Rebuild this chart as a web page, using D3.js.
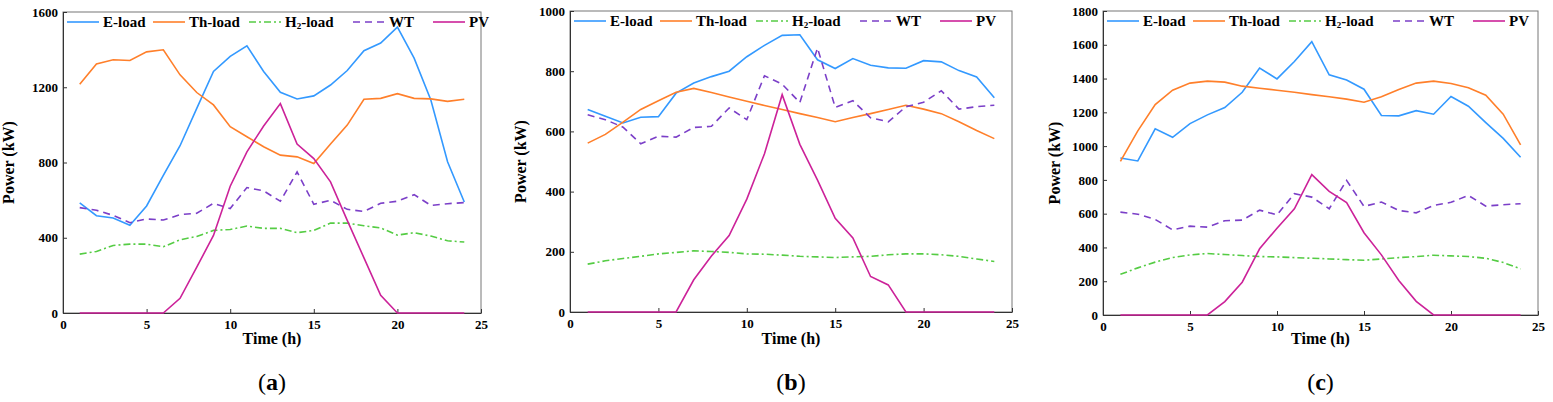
<!DOCTYPE html>
<html><head><meta charset="utf-8">
<script src="https://cdn.jsdelivr.net/npm/d3@7"></script>
<style>body{margin:0;background:#fff}svg text{font-family:'Liberation Serif','Times New Roman',serif !important;font-weight:bold}</style>
</head><body><svg id="c" width="1553" height="402"></svg>
<script>
const hours = d3.range(1, 25);
const series = ['E-load','Th-load','H2-load','WT','PV'];
const colors = ['#3399ff','#ff7f2a','#55cc44','#7b3fc8','#cc2299'];
const dashes = [null,null,'7,3,2,3','7,5',null];

// panel (a)
const aE = [585,517,505,466,569,732,889,1088,1284,1364,1420,1284,1173,1138,1154,1212,1289,1394,1435,1520,1355,1132,804,590];
const aTh = [1216,1324,1346,1342,1388,1399,1266,1172,1106,990,937,884,839,830,795,898,999,1136,1141,1166,1141,1138,1125,1136];
const aH2 = [313,327,359,366,366,352,389,407,439,444,462,450,450,427,439,478,478,464,452,414,427,409,384,377];
const aWT = [560,546,519,480,500,494,523,530,583,555,667,649,594,750,578,599,551,540,583,594,629,572,581,587];
const aPV = [0,0,0,0,0,0,78,244,412,674,857,994,1113,898,821,697,492,293,94,0,0,0,0,0];
// panel (b)
const bE = [673,650,628,647,649,727,761,782,800,848,886,919,921,838,809,842,820,811,810,835,831,802,781,712];
const bTh = [561,590,631,673,702,730,743,729,714,700,686,673,659,646,632,646,659,673,687,674,659,632,603,576];
const bH2 = [159,170,178,185,193,198,203,201,198,193,192,189,185,183,181,183,185,190,193,193,190,185,176,168];
const bWT = [655,639,614,559,584,581,613,617,678,639,785,757,696,877,680,702,645,632,682,697,735,674,682,687];
const bPV = [0,0,0,0,0,0,107,186,254,375,526,722,557,438,311,246,118,90,0,0,0,0,0,0];
// panel (c)
const cE = [930,912,1102,1052,1133,1185,1228,1319,1462,1398,1501,1618,1422,1391,1337,1181,1179,1210,1189,1294,1236,1139,1046,934];
const cTh = [910,1090,1246,1331,1373,1385,1379,1355,1343,1331,1319,1305,1292,1278,1260,1292,1335,1373,1385,1371,1345,1301,1189,1007];
const cH2 = [241,279,313,340,356,364,358,352,346,344,340,336,332,328,324,332,340,346,354,350,346,336,311,273];
const cWT = [609,597,566,504,526,520,558,562,621,593,718,698,629,797,643,669,619,605,649,667,708,645,653,659];
const cPV = [0,0,0,0,0,0,79,194,392,514,629,831,732,665,487,356,204,81,0,0,0,0,0,0];

const panels = [
  {label:'a', data:[aE,aTh,aH2,aWT,aPV], ymax:1600, yticks:[0,400,800,1200,1600], x0:63, x1:481, y0:12, y1:313, titleX:14},
  {label:'b', data:[bE,bTh,bH2,bWT,bPV], ymax:1000, yticks:[0,200,400,600,800,1000], x0:570, x1:1012, y0:11, y1:312, titleX:526},
  {label:'c', data:[cE,cTh,cH2,cWT,cPV], ymax:1800, yticks:d3.range(0,1801,200), x0:1103, x1:1538, y0:11, y1:315, titleX:1060}
];
const legOff = [4,90,186,290,370];

const svg = d3.select('#c');
panels.forEach(p=>{
  const x = d3.scaleLinear().domain([0,25]).range([p.x0,p.x1]);
  const y = d3.scaleLinear().domain([0,p.ymax]).range([p.y1,p.y0]);
  const g = svg.append('g');
  g.append('rect').attr('x',p.x0).attr('y',p.y0).attr('width',p.x1-p.x0).attr('height',p.y1-p.y0)
    .attr('fill','none').attr('stroke','#777').attr('stroke-width',1);
  const xa = g.append('g').attr('transform',`translate(0,${p.y1})`)
    .call(d3.axisBottom(x).tickValues([0,5,10,15,20,25]).tickFormat(d3.format('d')).tickSizeInner(-4).tickSizeOuter(0).tickPadding(7));
  const ya = g.append('g').attr('transform',`translate(${p.x0},0)`)
    .call(d3.axisLeft(y).tickValues(p.yticks).tickFormat(d3.format('d')).tickSizeInner(-4).tickSizeOuter(0).tickPadding(5));
  [xa,ya].forEach(a=>{
    a.attr('font-family',null);
    a.select('.domain').attr('stroke','#333');
    a.selectAll('line').attr('stroke','#333');
    a.selectAll('text').attr('font-size',13).attr('fill','#000');
  });
  const line = d3.line().x((d,i)=>x(hours[i])).y(d=>y(d));
  p.data.forEach((vals,k)=>{
    g.append('path').datum(vals).attr('d',line).attr('fill','none')
      .attr('stroke',colors[k]).attr('stroke-width',1.6)
      .attr('stroke-dasharray',dashes[k]);
  });
  // legend
  series.forEach((s,k)=>{
    const lx = p.x0+legOff[k], ly = p.y0+10;
    g.append('line').attr('x1',lx).attr('x2',lx+32).attr('y1',ly).attr('y2',ly)
      .attr('stroke',colors[k]).attr('stroke-width',1.6).attr('stroke-dasharray',dashes[k]);
    const t = g.append('text').attr('x',lx+36).attr('y',ly+5).attr('font-size',15);
    if(s==='H2-load'){
      t.append('tspan').text('H');
      t.append('tspan').text('2').attr('font-size',9).attr('dy',2);
      t.append('tspan').text('-load').attr('dy',-2);
    } else t.text(s);
  });
  g.append('text').attr('x',(p.x0+p.x1)/2).attr('y',344).attr('text-anchor','middle')
    .attr('font-size',16).text('Time (h)');
  g.append('text').attr('transform',`translate(${p.titleX},${(p.y0+p.y1)/2}) rotate(-90)`)
    .attr('text-anchor','middle').attr('font-size',16).text('Power (kW)');
  const lt = g.append('text').attr('x',(p.x0+p.x1)/2).attr('y',390).attr('text-anchor','middle')
    .attr('font-size',24).style('font-weight','normal');
  lt.append('tspan').text('(');
  lt.append('tspan').text(p.label).style('font-weight','bold');
  lt.append('tspan').text(')');
});
</script></body></html>
